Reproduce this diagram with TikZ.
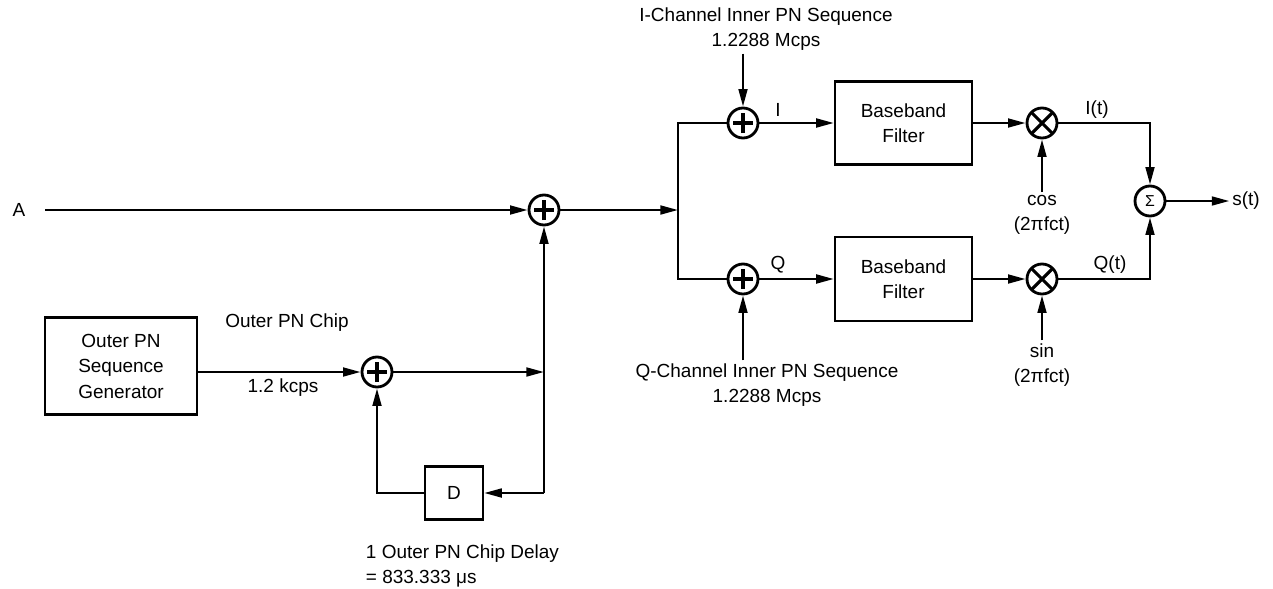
\documentclass[tikz,border=0pt]{standalone}
\usepackage{fontspec}
\setmainfont{Liberation Sans}
\usetikzlibrary{arrows.meta,calc,positioning}

\begin{document}
\begin{tikzpicture}[x=0.2mm,y=-0.2mm,line width=1.35pt,
  >={Triangle[length=10pt,width=5pt]},
  lbl/.style={font=\fontsize{10.8}{14.5}\selectfont,inner sep=1pt,align=center},
  blk/.style={draw,lbl,inner sep=2pt},
  adder/.style={circle,draw,line width=1.6pt,minimum size=6mm,inner sep=0pt,
    path picture={\draw[line width=1.8pt]
      ([xshift=-2mm]path picture bounding box.center)--([xshift=2mm]path picture bounding box.center)
      ([yshift=-2mm]path picture bounding box.center)--([yshift=2mm]path picture bounding box.center);}},
  mixer/.style={circle,draw,line width=1.6pt,minimum size=6mm,inner sep=0pt,
    path picture={\draw[line width=1.8pt]
      (path picture bounding box.north west)--(path picture bounding box.south east)
      (path picture bounding box.north east)--(path picture bounding box.south west);}}]
  \useasboundingbox (0,0) rectangle (1273,588);

  \node[lbl] (A) at (19,210) {A};
  \node[adder] (add) at (544,210) {};
  \coordinate (split) at (678,210);
  \node[adder] (iadd) at (743,123) {};
  \node[adder] (qadd) at (743,279) {};
  \node[lbl] (ipn) at (766,29) {I-Channel Inner PN Sequence\\1.2288 Mcps};
  \node[lbl] (qpn) at (767,385) {Q-Channel Inner PN Sequence\\1.2288 Mcps};
  \node[lbl] (ilab) at (778,110) {I};
  \node[lbl] (qlab) at (778,265) {Q};
  \node[blk,minimum width=27.4mm,minimum height=16.6mm] (ibb) at (903.5,123) {Baseband\\Filter};
  \node[blk,minimum width=27.4mm,minimum height=16.8mm] (qbb) at (903.5,279) {Baseband\\Filter};
  \node[mixer] (imul) at (1042,123) {};
  \node[mixer] (qmul) at (1042,279) {};
  \node[lbl] (cos) at (1042,215) {cos\\(2πfct)};
  \node[lbl] (sin) at (1042,365) {sin\\(2πfct)};
  \node[circle,draw,line width=1.6pt,minimum size=6mm,inner sep=0pt,font=\fontsize{9}{9}\selectfont] (sum) at (1150,201) {Σ};
  \node[lbl] (st) at (1246,201) {s(t)};
  \node[lbl] (itlab) at (1097,110) {I(t)};
  \node[lbl] (qtlab) at (1110,265) {Q(t)};

  \node[blk,minimum width=30.4mm,minimum height=19.4mm] (gen) at (121,366) {Outer PN\\Sequence\\Generator};
  \node[lbl] (chip) at (287,323) {Outer PN Chip};
  \node[lbl] (rate) at (283,388) {1.2 kcps};
  \node[adder] (add2) at (377,372) {};
  \coordinate (tap) at (544,372);
  \node[blk,minimum width=11.6mm,minimum height=10.6mm] (dly) at (454,493) {D};
  \node[lbl,align=left,anchor=west] (dlytxt) at (363,566) {1 Outer PN Chip Delay\\= 833.333 μs};

  \draw[->,shorten <=3.4mm] (A) -- (add);
  \draw[->] (add) -- (split);
  \draw (iadd) -| (split) |- (qadd);
  \draw[->] (ipn.south -| iadd) -- (iadd);
  \draw[->] (qpn.north -| qadd) -- (qadd);
  \draw[->] (iadd) -- (ibb);
  \draw[->] (qadd) -- (qbb);
  \draw[->] (ibb) -- (imul);
  \draw[->] (qbb) -- (qmul);
  \draw[->] (cos) -- (imul);
  \draw[->] (sin) -- (qmul);
  \draw[->] (imul) -| (sum);
  \draw[->] (qmul) -| (sum);
  \draw[->] (sum) -- (st);

  \draw[->] (gen.east |- add2) -- (add2);
  \draw[->] (add2) -- (tap);
  \draw[->] (dly.east -| add) -- (add);
  \draw[->] (dly.east -| add) -- (dly);
  \draw[->] (dly) -| (add2);
\end{tikzpicture}
\end{document}
